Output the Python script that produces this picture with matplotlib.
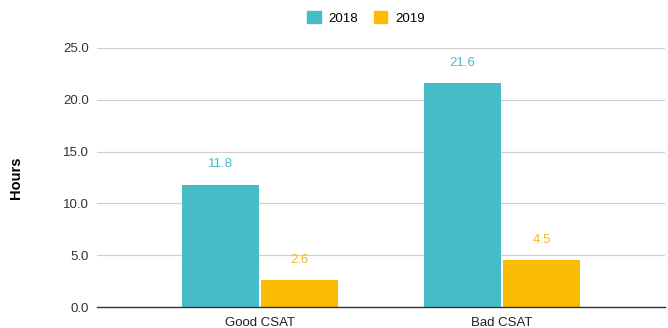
import matplotlib
matplotlib.use('Agg')
import matplotlib.pyplot as plt
import matplotlib.patches as mpatches
import numpy as np

plt.rcParams['font.family'] = ['Liberation Sans', 'DejaVu Sans']

categories = ['Good CSAT', 'Bad CSAT']
series_names = ['2018', '2019']
values_2018 = [11.8, 21.6]
values_2019 = [2.6, 4.5]
y_ticks = [0, 5, 10, 15, 20, 25]

colors = ['#46BDC6', '#FBBC04']
label_colors = ['#46BDC6', '#F2B92C']

fig = plt.figure(figsize=(6.68, 3.28), dpi=100)
ax = fig.add_axes([97 / 668, 1 - 307 / 328, 568 / 668, 259 / 328])

x = np.arange(len(categories))
w = 0.318
gap = 0.004
for i, (vals, c, lc) in enumerate(zip([values_2018, values_2019], colors, label_colors)):
    offset = (-1 if i == 0 else 1) * (w / 2 + gap)
    ax.bar(x + offset, vals, width=w, color=c, zorder=3)
    for xi, v in zip(x, vals):
        ax.text(xi + offset, v + 1.4, f'{v:.1f}', ha='center', va='bottom',
                fontsize=9.5, color=lc)

ax.set_xlim(-0.674, 1.674)
ax.set_ylim(0, 25)
ax.set_yticks(y_ticks)
ax.set_yticklabels([f'{t:.1f}' for t in y_ticks], fontsize=9.5, color='#333333')
ax.set_xticks(x)
ax.set_xticklabels(categories, fontsize=9.5, color='#222222')
ax.tick_params(axis='both', length=0, pad=6)
ax.tick_params(axis='x', pad=7)
ax.grid(axis='y', color='#d0d0d0', linewidth=0.9, zorder=0)
for s in ['top', 'right', 'left']:
    ax.spines[s].set_visible(False)
ax.spines['bottom'].set_color('#333333')
ax.spines['bottom'].set_linewidth(1.0)
ax.spines['bottom'].set_zorder(4)

fig.text(16 / 668, 1 - 178 / 328, 'Hours', rotation=90, ha='center', va='center',
         fontsize=10.5, fontweight='bold', color='#000000')

handles = [mpatches.Patch(color=c, label=n) for c, n in zip(colors, series_names)]
fig.legend(handles=handles, loc='center', bbox_to_anchor=(366 / 668, 1 - 18 / 328),
           ncol=2, frameon=False, fontsize=9.5, handlelength=1.0, handleheight=1.0,
           columnspacing=1.2, handletextpad=0.6)

fig.savefig('out.png', dpi=100)
